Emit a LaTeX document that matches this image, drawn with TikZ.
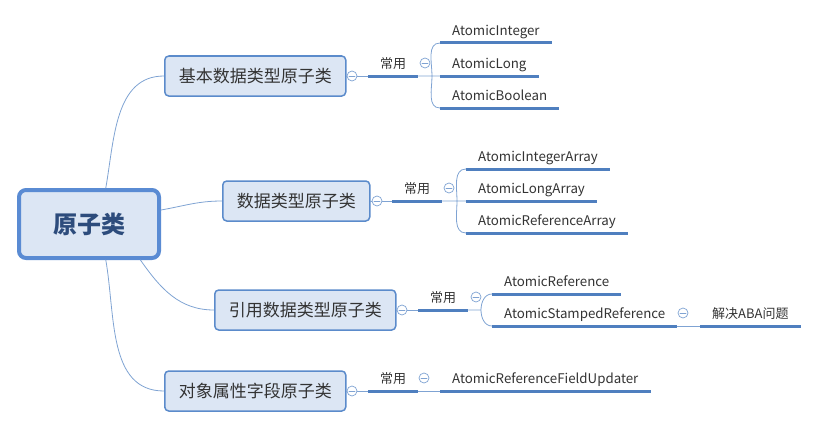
\documentclass[tikz,border=0pt]{standalone}
\usepackage{fontspec}
\setmainfont{Noto Sans CJK SC}
\usepackage{tikz}
\definecolor{boxfill}{HTML}{DCE6F4}
\definecolor{boxline}{HTML}{5B8BCB}
\definecolor{rootline}{HTML}{5A8BD3}
\definecolor{ulineblue}{HTML}{4F7FBF}
\definecolor{thinline}{HTML}{7FA3D3}
\definecolor{roottext}{HTML}{2D4C7C}
\definecolor{darktext}{HTML}{333333}
\tikzset{
  every picture/.style={line join=round, line cap=round},
  rootbox/.style={draw=rootline, fill=boxfill, line width=4pt, rounded corners=7pt, minimum width=140pt, minimum height=68pt, font=\fontsize{24}{28}\selectfont\bfseries, text=roottext},
  topic/.style={draw=boxline, fill=boxfill, line width=1.5pt, rounded corners=4pt, minimum height=40pt, inner xsep=14pt, font=\fontsize{17}{20}\selectfont, text=darktext},
  tag/.style={anchor=south west, inner xsep=12pt, inner ysep=4pt, text height=10pt, text depth=3pt, font=\fontsize{13}{16}\selectfont, text=darktext},
  leaf/.style={tag, font=\fontsize{13.3}{16}\selectfont},
  uline/.style={draw=ulineblue, line width=3pt, line cap=butt},
  link/.style={draw=thinline, line width=0.8pt},
  fold/.style={circle, draw=thinline, fill=white, line width=0.7pt, minimum size=10pt, inner sep=0pt,
    path picture={\draw[thinline, line width=0.7pt] ([xshift=-3pt]path picture bounding box.center) -- ([xshift=3pt]path picture bounding box.center);}},
}

\begin{document}
\begin{tikzpicture}[x=1pt,y=-1pt]
\useasboundingbox (0,0) rectangle (818,428);
\node[rootbox] (root) at (89,224) {原子类};
\node[topic,anchor=west] (b1) at (164,76) {基本数据类型原子类};
\node[topic,anchor=west] (b2) at (222,201) {数据类型原子类};
\node[topic,anchor=west] (b3) at (214,310) {引用数据类型原子类};
\node[topic,anchor=west] (b4) at (164,391) {对象属性字段原子类};
% 常用
\node[tag] (c1) at (368,76) {常用};
\node[tag] (c2) at (392,201) {常用};
\node[tag] (c3) at (418,310) {常用};
\node[tag] (c4) at (368,391) {常用};
% leaves
\node[leaf] (l11) at (440,43) {AtomicInteger};
\node[leaf] (l12) at (440,76) {AtomicLong};
\node[leaf] (l13) at (440,108) {AtomicBoolean};
\node[leaf] (l21) at (466,169) {AtomicIntegerArray};
\node[leaf] (l22) at (466,201) {AtomicLongArray};
\node[leaf] (l23) at (466,233) {AtomicReferenceArray};
\node[leaf] (l31) at (492,294) {AtomicReference};
\node[leaf] (l32) at (492,326) {AtomicStampedReference};
\node[tag] (aba) at (700,326) {解决ABA问题};
\node[leaf] (l41) at (440,391) {AtomicReferenceFieldUpdater};
\coordinate (j1) at (432,76);
\coordinate (j2) at (457,201);
\coordinate (j3) at (481,310);
% root to topics
\draw[link] (root.65) to[out=80,in=180] (b1.west);
\draw[link] (root.11) to[out=10,in=180] (b2.west);
\draw[link] (root.-35) to[out=-55,in=180] (b3.west);
\draw[link] (root.-65) to[out=-80,in=180] (b4.west);
% topics to 常用
\foreach \b/\c in {b1/c1,b2/c2,b3/c3,b4/c4}
  \draw[link] (\b.east) -- (\c.south west);
% 常用 to leaves
\draw[link] (c1.south east) -- (l12.south west) (j1) to[out=90,in=180] (l11.south west) (j1) to[out=-90,in=180] (l13.south west);
\draw[link] (c2.south east) -- (l22.south west) (j2) to[out=90,in=180] (l21.south west) (j2) to[out=-90,in=180] (l23.south west);
\draw[link] (c3.south east) -- (j3) to[out=90,in=180] (l31.south west) (j3) to[out=-90,in=180] (l32.south west);
\draw[link] (c4.south east) -- (l41.south west);
\draw[link] (l32.south east) -- (aba.south west);
% underlines
\foreach \n in {c1,c2,c3,c4,l11,l12,l13,l21,l22,l23,l31,l32,l41,aba}
  \draw[uline] (\n.south west) -- (\n.south east);
% fold marks
\node[fold] (f1) at (352,76) {};
\node[fold] (f2) at (377,201) {};
\node[fold] (f3) at (402,310) {};
\node[fold] (f4) at (352,391) {};
\node[fold] (g1) at (425,63) {};
\node[fold] (g2) at (449,188) {};
\node[fold] (g3) at (476,297) {};
\node[fold] (g4) at (424,378) {};
\node[fold] (g5) at (683,313) {};
\end{tikzpicture}
\end{document}
